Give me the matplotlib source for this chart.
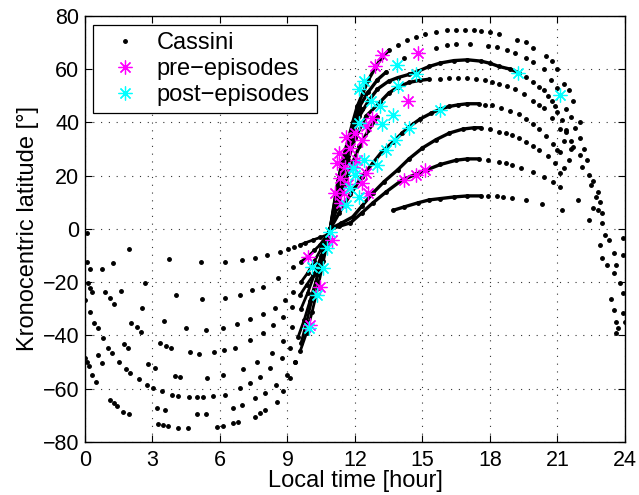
import matplotlib
matplotlib.use("Agg")
import matplotlib.pyplot as plt
import numpy as np

# ---- data: (local time [h], kronocentric latitude [deg]) ----
# northern arcs, one list per orbit
track_n1 = [(10.9, 0), (11.05, 8), (11.25, 18), (11.45, 26), (11.7, 33.5), (11.9, 40), (12.1, 46),
            (12.35, 51), (12.6, 56), (12.9, 60.5), (13.2, 64.5), (13.5, 67), (13.9, 69), (14.3, 70.8),
            (14.7, 72), (15.1, 73.2), (15.6, 74), (16.1, 74.7), (16.5, 74.8), (16.9, 74.8), (17.3, 74.5),
            (17.6, 74.4), (18.0, 73.8), (18.4, 73), (19.2, 71), (19.6, 70), (19.9, 68), (20.5, 65),
            (20.75, 63), (21.0, 60), (21.3, 54.5), (21.5, 52), (21.7, 48), (22.0, 40)]
track_n2 = [(10.9, 0), (11.1, 10), (11.3, 20), (11.6, 29.6), (11.9, 38), (12.2, 46), (12.6, 51.5),
            (13.0, 56), (13.4, 59), (14.2, 64), (14.8, 66), (15.6, 68), (16.1, 69), (16.5, 69.5),
            (17.1, 69.5), (17.9, 68.7), (18.3, 68.3), (18.75, 67), (19.1, 66), (19.6, 64), (19.9, 62.5),
            (20.4, 60), (20.7, 56), (21.0, 53), (21.4, 45), (21.6, 42)]
track_n3 = [(10.9, 0), (11.1, 8), (11.35, 18), (11.6, 27), (11.9, 35), (12.2, 42.4), (12.6, 48),
            (13.0, 52.5), (13.5, 55.5), (13.9, 56.8), (14.4, 58), (14.8, 59.2), (15.3, 61), (15.8, 62.3),
            (16.4, 63.2), (17.0, 63.5), (17.6, 63), (18.0, 62.2), (18.4, 61), (18.9, 60), (19.3, 58.6),
            (19.6, 57), (19.9, 55), (20.2, 53.3), (20.4, 52), (20.6, 50), (20.75, 48), (20.9, 46),
            (21.0, 44), (21.2, 41), (21.4, 37), (21.6, 33)]
track_n4 = [(10.9, 0), (11.15, 8), (11.4, 17), (11.7, 26), (12.0, 34), (12.5, 42.4), (13.1, 47.5),
            (13.5, 51), (13.9, 53.2), (14.4, 55), (14.9, 55.8), (15.3, 56.2), (15.8, 56.4), (16.2, 56.6),
            (16.6, 56.7), (17.0, 56.6), (17.4, 56.4), (17.8, 55.8), (18.1, 55), (18.4, 54.4),
            (18.75, 53.7), (19.1, 52.5), (19.5, 50.7), (19.9, 48), (20.2, 46.5), (20.4, 45.4),
            (20.75, 41.7), (21.1, 37.6), (21.3, 33)]
track_n5 = [(10.9, 0), (11.3, 6), (11.8, 13), (12.3, 19.5), (12.8, 24.8), (13.2, 29), (13.7, 32.7),
            (14.1, 36), (14.4, 38.3), (14.9, 41.3), (15.4, 43.5), (15.8, 45), (16.2, 46), (16.6, 46.6),
            (17.0, 47), (17.5, 47), (17.8, 46.7), (18.1, 46.5), (18.5, 45.5), (18.9, 44.3), (19.3, 43),
            (19.6, 41.3), (19.9, 39.5), (20.2, 37.6), (20.5, 35), (20.8, 32), (21.0, 29.7)]
track_n6 = [(10.9, 0), (11.4, 2.2), (11.9, 4.5), (12.3, 8.5), (12.8, 13.5), (13.3, 17.8), (13.9, 22.2),
            (14.4, 26.3), (15.0, 30.4), (15.6, 33.5), (16.2, 36), (16.8, 37.5), (17.3, 38), (17.6, 38),
            (18.0, 37.5), (18.4, 36.4), (18.7, 36), (19.0, 35.3), (19.3, 34), (19.6, 32.7), (19.9, 31.3),
            (20.2, 29.7), (20.6, 27.4), (20.9, 24.8), (21.1, 21)]
track_n7 = [(10.9, 0), (11.3, 1), (11.8, 2.3), (12.3, 6), (12.8, 9.8), (13.4, 14), (14.1, 18.4),
            (14.7, 20.5), (15.2, 22.2), (15.8, 24.2), (16.5, 25.8), (17.0, 26.3), (17.5, 26.3),
            (17.9, 26), (18.4, 25.2), (18.7, 24.8), (19.0, 24), (19.4, 22.8), (19.9, 21.4), (20.4, 19.5),
            (20.8, 17.5), (21.1, 15.8)]
track_n8 = [(13.7, 7), (14.2, 8.3), (14.8, 9.8), (15.3, 10.9), (15.8, 11.4), (16.4, 12), (17.0, 12.4),
            (17.6, 12.4), (17.9, 12.3), (18.3, 12.2), (18.6, 12), (19.0, 11.6), (19.6, 10.9),
            (20.3, 9.4), (21.2, 7.1)]
# short, steep arcs that only show up inside the black wedge above the node
track_w1 = [(10.9, 0), (11.1, 9), (11.3, 18), (11.55, 27), (11.8, 34), (12.05, 40), (12.3, 45)]
track_w2 = [(10.9, 0), (11.2, 8), (11.5, 16), (11.85, 24), (12.2, 31), (12.6, 37), (13.0, 42)]

# southern arcs
track_s1 = [(0, -48.3), (0.07, -49.8), (0.18, -51.3), (0.3, -54.8), (0.47, -57.6), (1.11, -64.2),
            (1.29, -65.5), (1.41, -66.5), (1.7, -68.6), (1.97, -69.6), (3.23, -73.4), (3.48, -73.7),
            (3.67, -74.1), (4.15, -74.6), (4.59, -74.6), (5.85, -74.2), (6.15, -73.9), (6.59, -73),
            (6.81, -72.4), (7.56, -70.5), (7.78, -69.2), (8.0, -68), (8.52, -64.9), (8.8, -61),
            (9.1, -56), (9.35, -50), (9.6, -43), (9.85, -35), (10.1, -26), (10.35, -17), (10.6, -9),
            (10.8, -3), (10.9, 0)]
track_s2 = [(3.19, -67.1), (3.56, -68), (5.0, -69.4), (5.36, -69.4), (6.59, -67.3), (7.0, -66),
            (7.56, -63.6), (8.0, -61.5), (8.5, -58.5), (8.96, -55), (9.33, -50), (9.56, -46),
            (9.85, -39), (10.1, -31), (10.35, -22), (10.6, -12), (10.8, -4), (10.9, 0)]
track_s3 = [(0, -26.7), (0.22, -31.3), (0.41, -35.2), (0.56, -37.3), (0.81, -41.1), (1.04, -44.8),
            (1.19, -46.4), (1.51, -49.8), (1.81, -52.6), (2.0, -54), (2.41, -56.3), (2.76, -58.6),
            (3.01, -59.6), (3.44, -60.8), (3.88, -62.3), (4.12, -62.6), (4.62, -63.2), (5.0, -63.2),
            (5.26, -63.2), (5.67, -62.6), (6.22, -62.3), (6.89, -59.8), (7.33, -57.8), (7.78, -55.5),
            (8.22, -52.3), (8.74, -48.6), (9.11, -44.8), (9.48, -40.4), (9.75, -34), (10.0, -27),
            (10.25, -20), (10.5, -12), (10.75, -4), (10.9, 0)]
track_s4 = [(2.81, -50.8), (3.11, -52.1), (4.0, -55.1), (4.22, -55.5), (5.41, -56.1), (6.15, -54.8),
            (7.04, -52.6), (7.63, -49.8), (8.3, -46.7), (8.8, -42), (9.2, -37), (9.6, -30), (9.9, -24),
            (10.2, -17), (10.5, -10), (10.75, -4), (10.9, 0)]
track_s5 = [(0.89, -23.5), (1.11, -25.8), (1.29, -28.3), (2.04, -35.2), (2.3, -36.7), (2.49, -38.8),
            (3.33, -42.7), (3.6, -43.8), (3.81, -44.8), (4.67, -46.1), (5.07, -46.9), (5.75, -46.1),
            (6.2, -45.6), (6.67, -44.6), (7.33, -41.7), (7.93, -39.2), (8.37, -36.1), (8.81, -32.9),
            (9.19, -29.2), (9.56, -24.8), (9.85, -21), (10.15, -17.3), (10.52, -12.3), (10.75, -6),
            (10.9, 0)]
track_s6 = [(0.12, -20.4), (1.59, -23.2), (2.55, -29.8), (3.53, -34.6), (4.49, -37.1), (5.37, -37.9),
            (6.15, -37.3), (6.74, -35.8), (7.33, -33.9), (7.93, -32), (8.44, -29.5), (8.89, -26.7),
            (9.26, -23.5), (9.6, -20), (9.9, -16.5), (10.2, -12), (10.5, -7.5), (10.75, -3), (10.9, 0)]
track_s7 = [(0.74, -15.1), (2.67, -20.4), (4.03, -24.8), (5.19, -26.3), (6.22, -25.8), (6.89, -24.8),
            (7.41, -22.9), (7.93, -21.7), (8.59, -18.3), (9.26, -14.2), (9.6, -12.3), (9.9, -10.5),
            (10.2, -8), (10.44, -6), (10.7, -3), (10.9, 0)]
track_s8 = [(0.07, -1.5), (1.97, -7.5), (3.73, -11.1), (5.16, -12.4), (6.22, -12.3), (6.99, -11.5),
            (7.56, -10.8), (8.07, -9.8), (8.67, -8.5), (9.04, -7.6), (9.3, -6.8), (9.56, -6),
            (9.8, -5.2), (10.15, -4.1), (10.45, -3.2), (10.74, -2.3), (10.9, 0)]

# loose dots: descending legs near 21-24 h and stray points near midnight
tail_dots = [(21.4, 36.4), (21.7, 30.8), (22.0, 27.8), (22.1, 23.3), (22.4, 20.3), (22.5, 16.5),
             (22.7, 12), (22.8, 7), (23.0, 2.3), (23.1, -2.3), (23.9, -3.4), (21.1, 29), (21.3, 23),
             (21.9, 11), (22.4, 3.5), (21.8, 38), (22.0, 34), (22.2, 30), (22.3, 26), (22.6, 18),
             (22.8, 14), (22.9, 10), (23.0, 6), (22.9, -6), (23.5, -9), (23.9, -9.8), (23.0, -11),
             (23.2, -13.5), (23.6, -13.5), (23.5, -16.5), (23.8, -20.3), (23.9, -24), (23.4, -26.3),
             (23.5, -30.4), (23.9, -31.5), (23.6, -34.9), (24.0, -34.9), (23.7, -37.2), (23.6, -39),
             (21.6, 30), (21.5, 26), (22.6, 8), (23.3, -4)]
stray_dots = [(0.07, -12.3), (0.22, -15), (1.23, -12.6), (0.22, -22), (0.3, -23.5), (0.56, -47.3),
              (0.74, -50.2), (1.75, -43.2), (1.93, -44.8)]

# pre-episodes (magenta) and post-episodes (cyan)
pre_t = [13.2, 12.9, 14.8, 14.35, 12.75, 12.3, 11.6, 11.3, 11.8, 11.2, 11.9, 12.1, 12.5, 11.1, 11.5,
         12.3, 12.6, 11.4, 14.2, 14.7, 15.1, 11.55, 12.5, 11.35, 11.7, 12.0, 9.9, 11.0, 10.45, 10.0]
pre_lat = [65.4, 61.0, 66.1, 48.0, 41.7, 33.4, 34.6, 28.5, 30.4, 24.8, 23.3, 26.0, 21.0, 13.5, 13.5,
           17.3, 13.5, 9.8, 18.4, 20.3, 22.2, 23.3, 38.7, 19.0, 17.0, 36.0, -10.5, -4.1, -21.8, -36.0]
post_t = [13.85, 14.7, 13.9, 12.4, 12.2, 12.7, 13.1, 13.7, 12.2, 13.2, 14.4, 13.8, 13.4, 13.0, 12.4,
          15.8, 12.0, 11.9, 11.6, 10.9, 19.25, 21.1, 10.75, 10.1, 10.6, 10.3, 9.97, 11.8, 12.2]
post_lat = [61.6, 58.2, 53.7, 55.4, 52.4, 48.0, 46.0, 42.8, 39.8, 39.4, 38.0, 33.4, 29.7, 24.0, 26.0,
            44.7, 20.3, 23.0, 9.0, -1.0, 58.6, 50.3, -7.0, -14.3, -14.7, -24.8, -37.2, 15.5, 12.0]

north_tracks = [track_n1, track_n2, track_n3, track_n4, track_n5, track_n6, track_n7, track_n8,
                track_w1, track_w2]
south_tracks = [track_s1, track_s2, track_s3, track_s4, track_s5, track_s6, track_s7, track_s8]

# where the dots are packed so tightly they read as a solid line
solid_to = [13.5, 13.4, 19.3, 15.3, 17.5, 17.6, 17.5, 17.6, 24, 24]
solid_from = 9.4

plt.rcParams['font.family'] = ['Liberation Sans', 'DejaVu Sans']
FS = 15.5
FS_LAB = 17

fig = plt.figure(figsize=(6.39, 4.95), dpi=100)
ax = fig.add_axes([0.133, 0.107, 0.845, 0.861])

dot = dict(ls='none', marker='.', ms=5, color='k')

for trk, lim in zip(north_tracks, solid_to):
    t, lat = np.array(trk).T
    m = t <= lim
    ax.plot(t[m], lat[m], '-', color='k', lw=2.4, solid_capstyle='round', zorder=2)
    ax.plot(t, lat, zorder=2, **dot)

for trk in south_tracks:
    t, lat = np.array(trk).T
    m = t >= solid_from
    ax.plot(t[m], lat[m], '-', color='k', lw=2.0, solid_capstyle='round', zorder=2)
    ax.plot(t, lat, zorder=2, **dot)

for pts in (tail_dots, stray_dots):
    t, lat = np.array(pts).T
    ax.plot(t, lat, zorder=2, **dot)

# legend handle for Cassini
ax.plot([], [], label='Cassini', **dot)

star = (8, 2, 0)
ax.plot(pre_t, pre_lat, ls='none', marker=star, ms=10, mew=0.9, color='#ff00ff',
        label='pre\u2212episodes', zorder=3)
ax.plot(post_t, post_lat, ls='none', marker=star, ms=10, mew=0.9, color='#00ffff',
        label='post\u2212episodes', zorder=4)

ax.set_xlim(0, 24)
ax.set_ylim(-80, 80)
ax.set_xticks(np.arange(0, 25, 3))
ax.set_yticks(np.arange(-80, 81, 20))
ax.tick_params(direction='in', length=5, width=0.8, top=True, right=True, labelsize=FS)
ax.tick_params(axis='x', pad=6)
ax.tick_params(axis='y', pad=4)
ax.grid(True, ls=(0, (1, 6)), color='k', lw=0.8, alpha=0.8)
ax.set_axisbelow(True)
for s in ax.spines.values():
    s.set_linewidth(1.0)

ax.set_xlabel('Local time [hour]', fontsize=FS_LAB, labelpad=-1)
ax.set_ylabel('Kronocentric latitude [\u00b0]', fontsize=FS_LAB, labelpad=3)

leg = ax.legend(loc='upper left', bbox_to_anchor=(0.015, 0.979), borderaxespad=0,
                fontsize=FS_LAB, frameon=True, fancybox=False, framealpha=1, edgecolor='k',
                borderpad=0.3, labelspacing=0.18, handlelength=2.1, handletextpad=0.3)
leg.get_frame().set_linewidth(0.9)

fig.savefig('out.png', dpi=100)
